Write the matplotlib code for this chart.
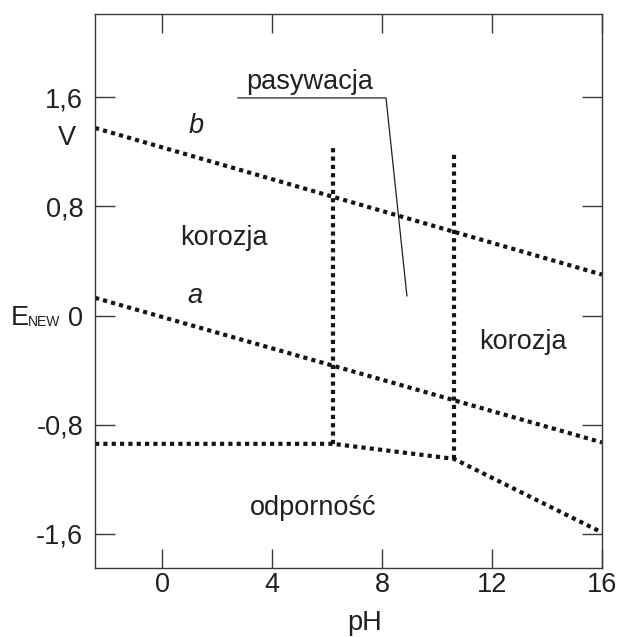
import numpy as np
import matplotlib
matplotlib.use("Agg")
import matplotlib.pyplot as plt

plt.rcParams['font.family'] = ['Liberation Sans', 'DejaVu Sans']

ink = '#231f20'

# boundary lines of the Pourbaix-like diagram (pH, E in V)
b_ph = [-2.45, 16]
b_E = [1.375, 0.30]
a_ph = [-2.45, 16]
a_E = [0.13, -0.93]
low_ph = [-2.45, 6.21, 10.61, 16]
low_E = [-0.94, -0.94, -1.05, -1.59]
v1_ph = [6.21, 6.21]
v1_E = [-0.94, 1.235]
v2_ph = [10.61, 10.61]
v2_E = [-1.05, 1.205]

xticks = [0, 4, 8, 12, 16]
yticks = [-1.6, -0.8, 0, 0.8, 1.6]
ylabels = ['-1,6', '-0,8', '0', '0,8', '1,6']

W, H = 618, 637
fig = plt.figure(figsize=(W / 100, H / 100), dpi=100)
ax = fig.add_axes([95 / W, 1 - 568 / H, 507 / W, 554 / H])

dot = dict(color='#151515', lw=3.0, linestyle=(0, (1, 1)), dash_capstyle='butt')
ax.plot(b_ph, b_E, **dot)
ax.plot(a_ph, a_E, **dot)
ax.plot(low_ph, low_E, **dot)
ax.plot(v1_ph, v1_E, **dot)
ax.plot(v2_ph, v2_E, **dot)

# pasywacja leader
ax.plot([2.75, 8.14, 8.90], [1.595, 1.595, 0.145], color=ink, lw=0.9)

fs = 19.5
ax.text(5.37, 1.66, 'pasywacja', ha='center', va='baseline', fontsize=fs, color=ink)
ax.text(2.23, 0.518, 'korozja', ha='center', va='baseline', fontsize=fs, color=ink)
ax.text(13.13, -0.244, 'korozja', ha='center', va='baseline', fontsize=fs, color=ink)
ax.text(5.48, -1.46, 'odporność', ha='center', va='baseline', fontsize=fs, color=ink)
ax.text(0.97, 1.337, 'b', ha='left', va='baseline', fontsize=fs, color=ink, style='italic')
ax.text(0.93, 0.093, 'a', ha='left', va='baseline', fontsize=fs, color=ink, style='italic')

ax.set_xlim(-2.45, 16)
ax.set_ylim(-1.85, 2.21)
ax.set_xticks(xticks)
ax.set_xticklabels([str(t) for t in xticks])
ax.set_yticks(yticks)
ax.set_yticklabels(ylabels)
ax.tick_params(axis='x', direction='in', length=13.7, width=1.0, color='#3a3a3a',
               top=True, labelsize=fs, labelcolor=ink, pad=3)
ax.tick_params(axis='y', direction='in', length=14.4, width=1.0, color='#3a3a3a',
               right=True, labelsize=fs, labelcolor=ink, pad=8.5)
for s in ax.spines.values():
    s.set_linewidth(1.0)
    s.set_color('#3a3a3a')

ax.set_xlabel('pH', fontsize=fs, color=ink)
ax.xaxis.set_label_coords((365 - 95) / 507, -62 / 554)
ax.xaxis.label.set_va('baseline')

# axis unit and symbol
fig.text(67 / W, 1 - 138 / H, 'V', ha='center', va='center', fontsize=fs, color=ink)
fig.text(11 / W, 1 - 325 / H, 'E', ha='left', va='baseline', fontsize=fs, color=ink)
fig.text(28 / W, 1 - 326 / H, 'NEW', ha='left', va='baseline', fontsize=10, color=ink)

fig.savefig('out.png', dpi=100)
